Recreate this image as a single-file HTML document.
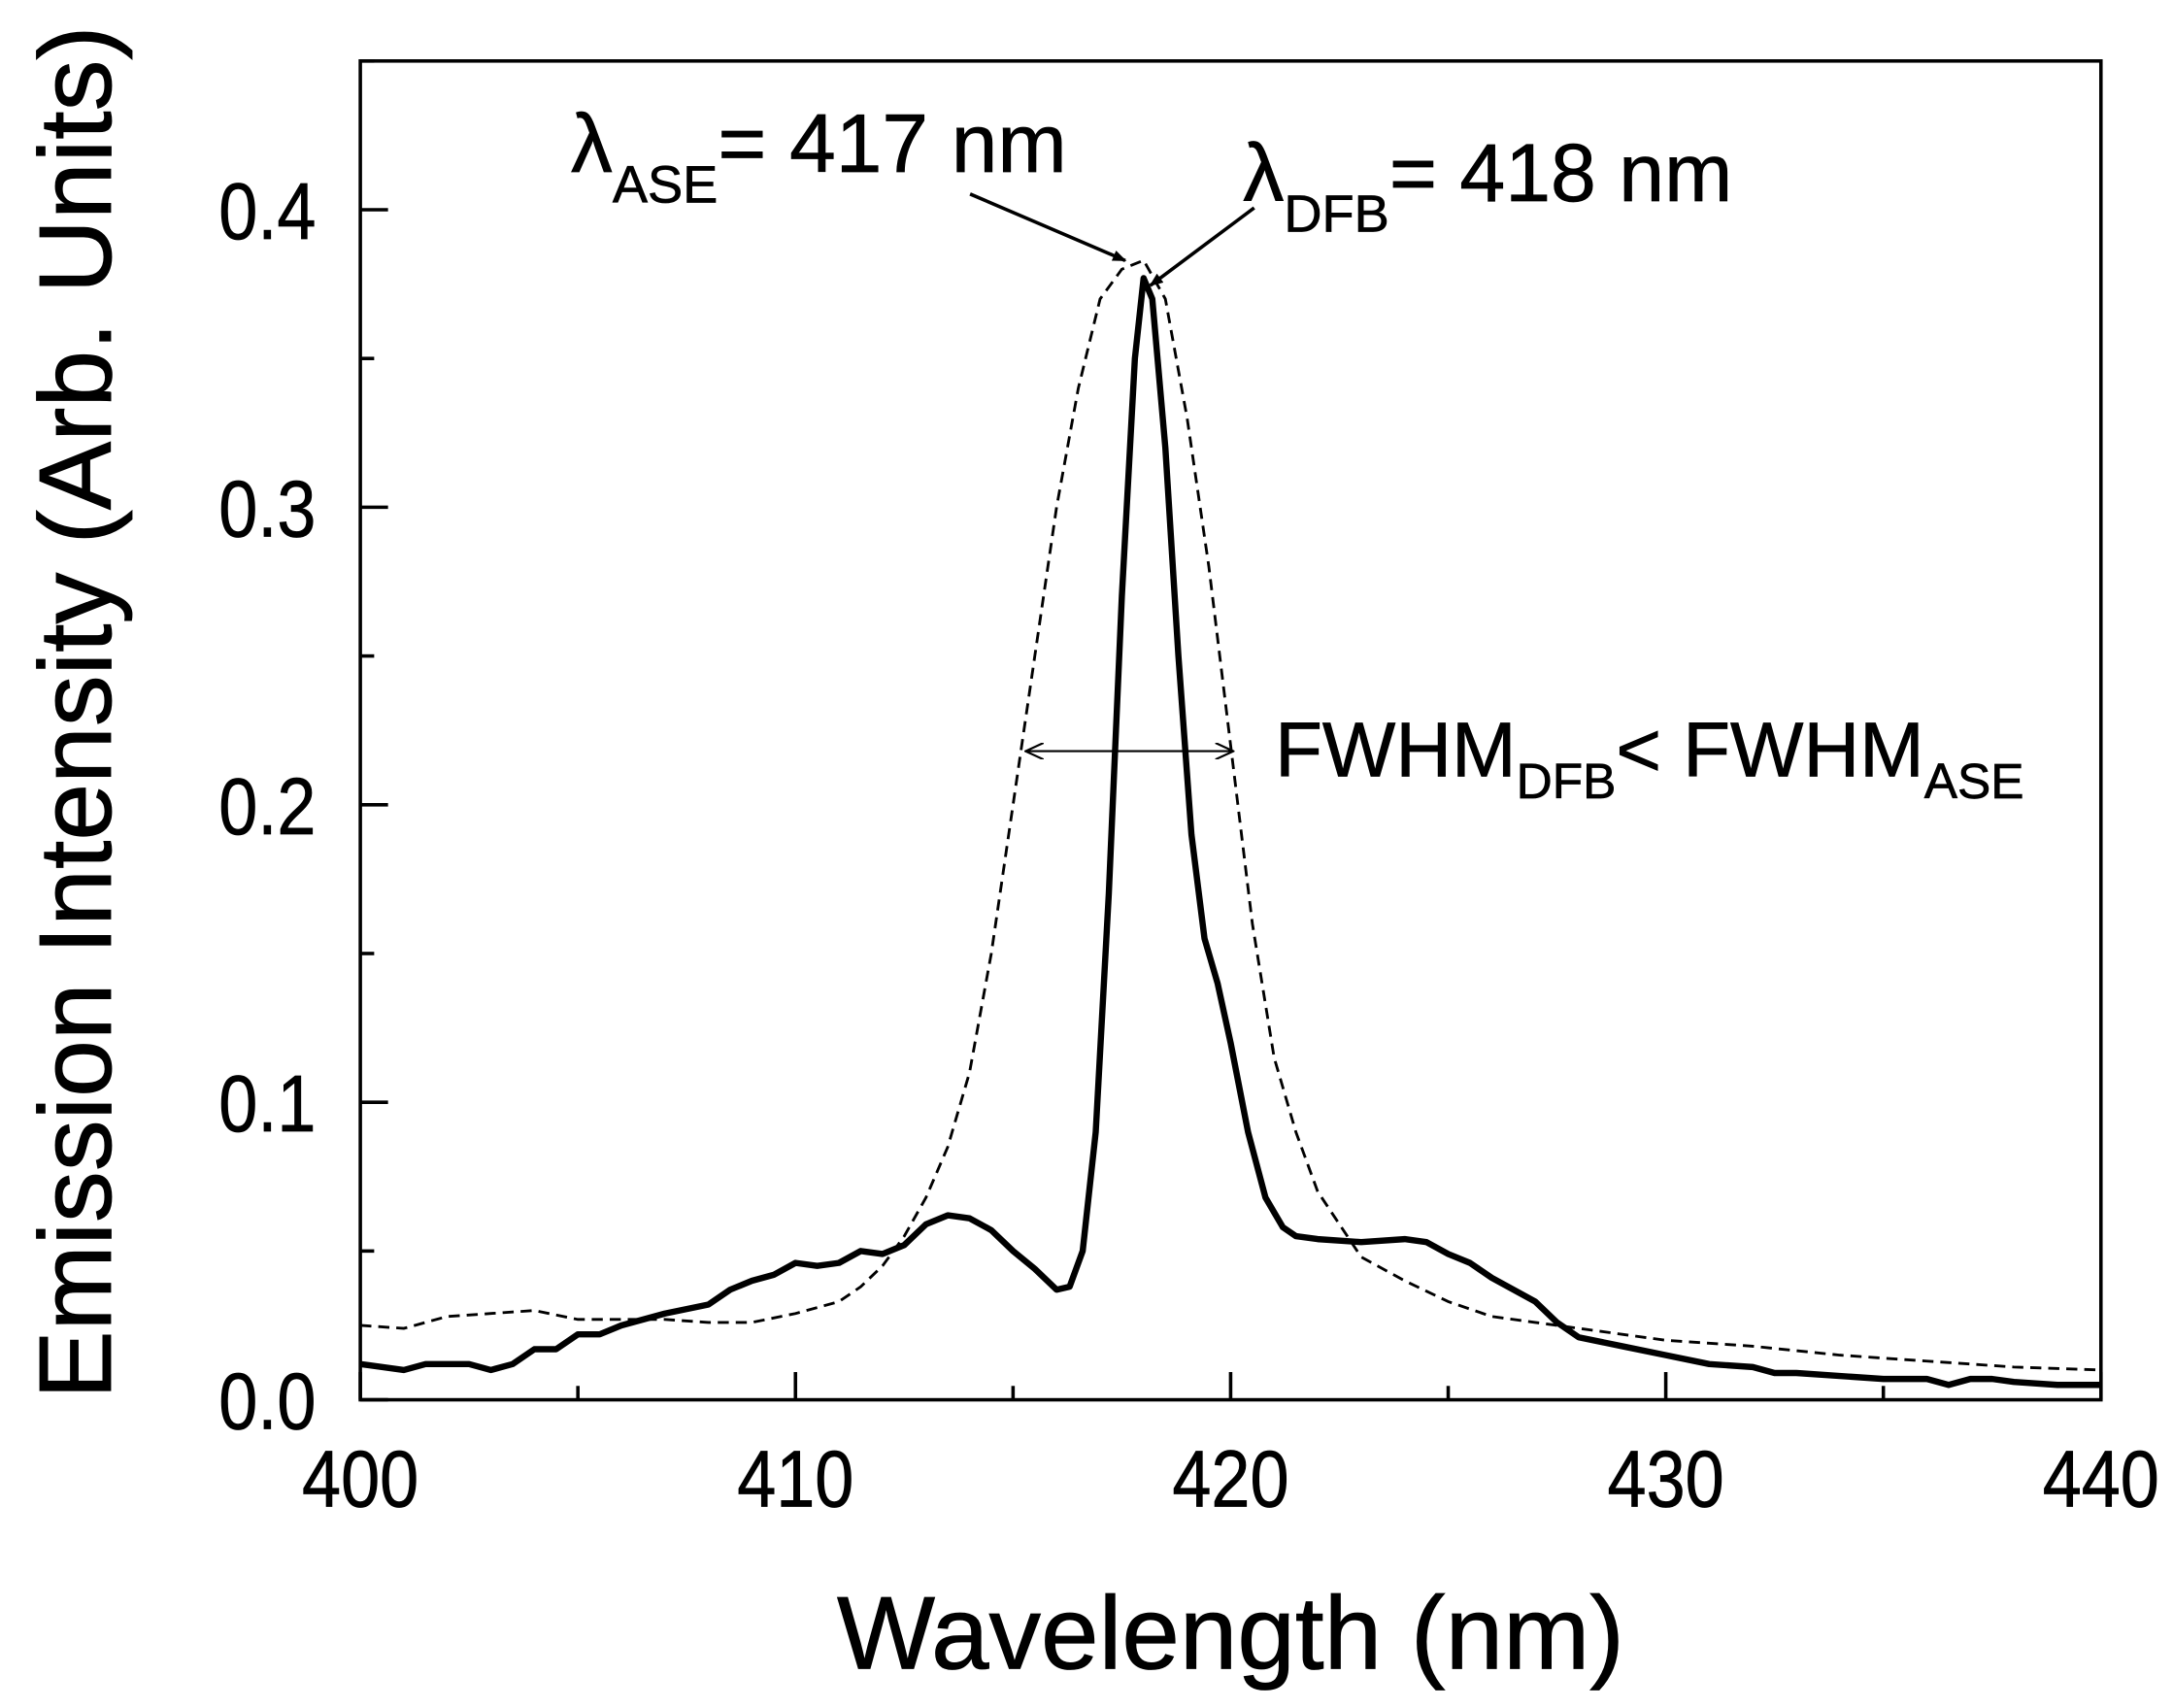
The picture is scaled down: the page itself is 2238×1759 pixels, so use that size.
<!DOCTYPE html>
<html><head><meta charset="utf-8"><style>body{margin:0;background:#fff}svg{display:block}</style></head>
<body>
<svg width="2238" height="1759" viewBox="0 0 1568 1232.4" font-family="'Liberation Sans', sans-serif">
<defs><marker id="ah" markerWidth="10" markerHeight="8" refX="9" refY="4" orient="auto" markerUnits="userSpaceOnUse"><path d="M0,0 L10,4 L0,8 z" fill="#000"/></marker>
<marker id="oa" markerWidth="14" markerHeight="12" refX="13" refY="6" orient="auto-start-reverse" markerUnits="userSpaceOnUse"><path d="M0,0 L13,6 L0,12" fill="none" stroke="#000" stroke-width="1.5"/></marker></defs>
<g id="plot"></g>
<rect x="260" y="44" width="1256" height="966" fill="none" stroke="#000" stroke-width="2.5"/>
<text x="888" y="1204" font-size="75" text-anchor="middle" stroke="#000" stroke-width="0.6">Wavelength (nm)</text>
<text transform="translate(80,514) rotate(-90)" font-size="74" text-anchor="middle" stroke="#000" stroke-width="0.6">Emission Intensity (Arb. Units)</text>
<text x="412" y="124" font-size="60" stroke="#000" stroke-width="0.5">λ<tspan font-size="38" dy="22">ASE</tspan><tspan dy="-22">= 417 nm</tspan></text>
<text x="897" y="145" font-size="59" stroke="#000" stroke-width="0.5">λ<tspan font-size="38" dy="22">DFB</tspan><tspan dy="-22">= 418 nm</tspan></text>
<line x1="700" y1="140" x2="812" y2="188" stroke="#000" stroke-width="2.5" marker-end="url(#ah)"/>
<line x1="905" y1="150" x2="830" y2="206" stroke="#000" stroke-width="2.5" marker-end="url(#ah)"/>
<line x1="740" y1="542" x2="890" y2="542" stroke="#000" stroke-width="1.5" marker-start="url(#oa)" marker-end="url(#oa)"/>
<text x="920" y="560" font-size="56" stroke="#000" stroke-width="0.5">FWHM<tspan font-size="36" dy="16">DFB</tspan><tspan dy="-16">&lt; FWHM</tspan><tspan font-size="36" dy="16">ASE</tspan></text>
</svg>
<script>
const dfbX=[400,401,401.5,402,402.5,403,403.5,404,404.5,405,405.5,406,407,408,408.5,409,409.5,410,410.5,411,411.5,412,412.5,413,413.5,414,414.5,415,415.5,416,416.3,416.6,416.9,417.2,417.5,417.8,418,418.2,418.5,418.8,419.1,419.4,419.7,420,420.4,420.8,421.2,421.5,422,423,424,424.5,425,425.5,426,427,427.5,428,429,430,431,432,432.5,433,434,435,436,436.5,437,437.5,438,439,440];
const dfbY=[0.012,0.010,0.012,0.012,0.012,0.010,0.012,0.017,0.017,0.022,0.022,0.025,0.029,0.032,0.037,0.040,0.042,0.046,0.045,0.046,0.050,0.049,0.052,0.059,0.062,0.061,0.057,0.050,0.044,0.037,0.038,0.05,0.09,0.17,0.27,0.35,0.377,0.37,0.32,0.25,0.19,0.155,0.14,0.12,0.09,0.068,0.058,0.055,0.054,0.053,0.054,0.053,0.049,0.046,0.041,0.033,0.026,0.021,0.018,0.015,0.012,0.011,0.009,0.009,0.008,0.007,0.007,0.005,0.007,0.007,0.006,0.005,0.005];
const aseX=[400,401,402,403,404,405,406,407,408,409,410,411,411.5,412,412.5,413,413.5,414,414.5,415,415.5,416,416.5,417,417.5,418,418.5,419,419.5,420,420.5,421,421.5,422,423,424,425,426,427,428,429,430,432,434,436,438,440];
const aseY=[0.025,0.024,0.028,0.029,0.030,0.027,0.027,0.027,0.026,0.026,0.029,0.033,0.038,0.045,0.055,0.068,0.085,0.11,0.15,0.20,0.25,0.30,0.34,0.37,0.38,0.383,0.37,0.33,0.28,0.22,0.16,0.115,0.09,0.07,0.048,0.04,0.033,0.028,0.026,0.024,0.022,0.020,0.018,0.015,0.013,0.011,0.010];
const xTicks=[400,410,420,430,440];
const yTicks=[0,0.1,0.2,0.3,0.4];
const yTickLabels=["0.0","0.1","0.2","0.3","0.4"];
const NS="http://www.w3.org/2000/svg";
const sx=v=>260+(v-400)/40*1256;
const sy=v=>1010-v/0.45*966;
const g=document.getElementById('plot');
function mk(t,a){const e=document.createElementNS(NS,t);for(const k in a)e.setAttribute(k,a[k]);g.appendChild(e);return e;}
for(let i=0;i<xTicks.length;i++){
 const l=mk('line',{x1:sx(xTicks[i]),x2:sx(xTicks[i]),y1:1010,y2:990,stroke:'#000','stroke-width':2.5});
 
 
 if(i<xTicks.length-1){const m=mk('line',{x1:sx(xTicks[i]+5),x2:sx(xTicks[i]+5),y1:1010,y2:1000,stroke:'#000','stroke-width':2.5});
 
 }
 const t=mk('text',{transform:'translate('+sx(xTicks[i])+',1087) scale(0.87,1)','font-size':58,'text-anchor':'middle',stroke:'#000','stroke-width':0.5});t.textContent=xTicks[i];
 
 
}
for(let i=0;i<yTicks.length;i++){
 const l=mk('line',{x1:260,x2:280,y1:sy(yTicks[i]),y2:sy(yTicks[i]),stroke:'#000','stroke-width':2.5});
 
 
 const m=mk('line',{x1:260,x2:270,y1:sy(yTicks[i]+0.05),y2:sy(yTicks[i]+0.05),stroke:'#000','stroke-width':2.5});
 
 
 const t=mk('text',{transform:'translate(228,'+(sy(yTicks[i])+21)+') scale(0.87,1)','font-size':58,'text-anchor':'end',stroke:'#000','stroke-width':0.5});t.textContent=yTickLabels[i];
 
 
}
const pa=mk('path',{d:'M'+aseX.map((x,i)=>sx(x)+','+sy(aseY[i])).join(' L'),fill:'none',stroke:'#000','stroke-width':2,'stroke-dasharray':'8,5'});


const pd=mk('path',{d:'M'+dfbX.map((x,i)=>sx(x)+','+sy(dfbY[i])).join(' L'),fill:'none',stroke:'#000','stroke-width':4.5,'stroke-linejoin':'round'});


</script>
</body></html>
